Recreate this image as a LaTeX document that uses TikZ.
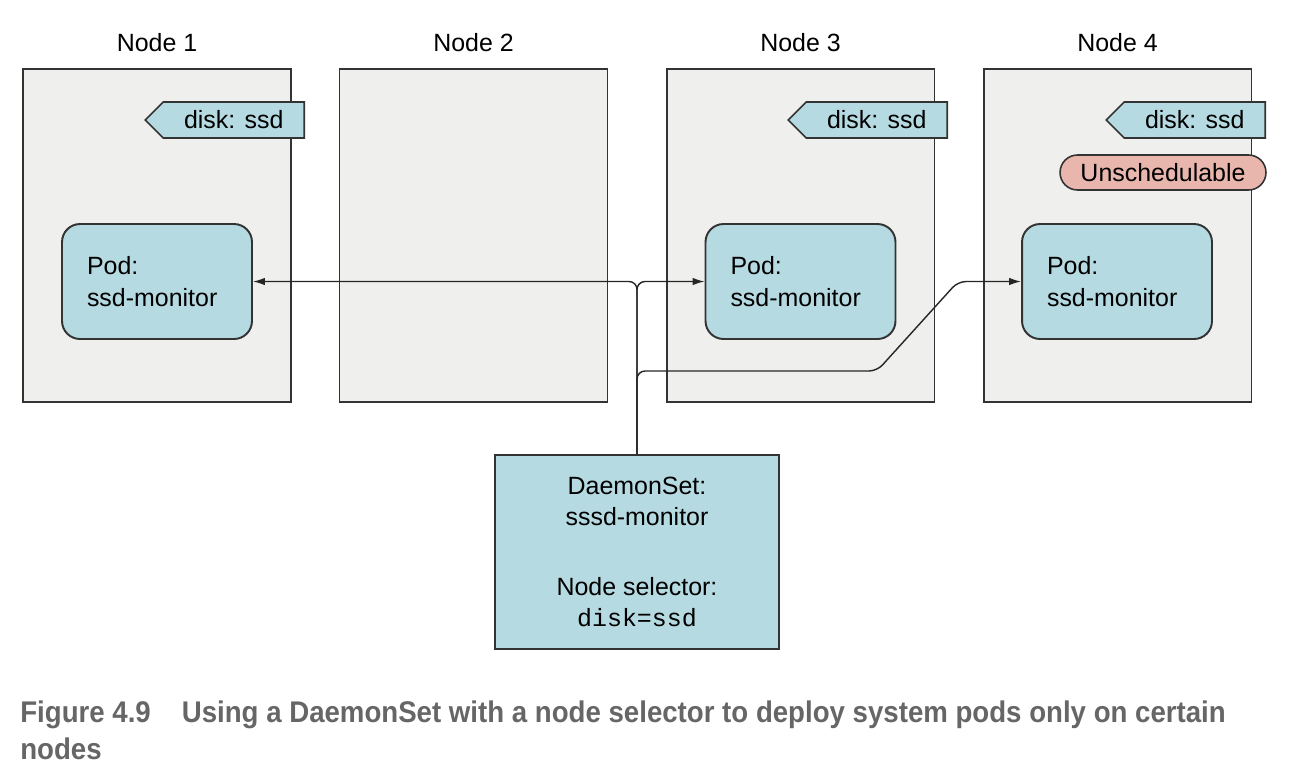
\documentclass[tikz,border=0pt]{standalone}
\usepackage{fontspec}
\setmainfont{Liberation Sans}
\setmonofont{Liberation Mono}
\newfontfamily\capfont[FakeStretch=0.925]{Liberation Sans}
\usetikzlibrary{arrows.meta, positioning, shapes.symbols}
\definecolor{nodegray}{HTML}{EFEFEE}
\definecolor{podblue}{HTML}{B5DAE1}
\definecolor{unschedred}{HTML}{E9B6AE}
\definecolor{edgegray}{HTML}{333333}
\definecolor{capgray}{HTML}{666666}

\begin{document}
\begin{tikzpicture}[
    x=0.02cm, y=-0.02cm,
    font=\fontsize{14.2}{17.9}\selectfont,
    nodebox/.style={draw=edgegray, line width=1.1pt, fill=nodegray, minimum width=5.36cm, minimum height=6.66cm},
    nodetitle/.style={anchor=base},
    disktag/.style={signal, signal to=west, draw=edgegray, line width=0.9pt, fill=podblue, minimum width=3.18cm, minimum height=0.72cm, inner sep=0pt, anchor=east},
    unsched/.style={draw=edgegray, line width=0.9pt, fill=unschedred, rounded corners=0.35cm, minimum width=4.12cm, minimum height=0.7cm, inner sep=0pt},
    podbox/.style={draw=edgegray, line width=1.1pt, fill=podblue, rounded corners=0.36cm, text width=2.8cm, inner xsep=0.5cm, minimum height=2.3cm, align=left},
    dsbox/.style={draw=edgegray, line width=1.1pt, fill=podblue, minimum width=5.68cm, minimum height=3.88cm, align=center},
    conn/.style={-{Latex[length=0.24cm, width=0.15cm]}, line width=0.8pt, black!85, rounded corners=0.16cm},
    caption/.style={font=\capfont\bfseries\fontsize{17}{21.6}\selectfont, text=capgray, align=left, inner sep=0pt, anchor=north west}
]
\useasboundingbox (0,0) rectangle (1294,782);

% the four cluster nodes
\node[nodebox] (n1) at (157,235.5) {};
\node[nodebox] (n2) at (473.5,235.5) {};
\node[nodebox] (n3) at (800.5,235.5) {};
\node[nodebox] (n4) at (1117.5,235.5) {};
\node[nodetitle] (t1) at (157,51) {Node 1};
\node[nodetitle] (t2) at (473.5,51) {Node 2};
\node[nodetitle] (t3) at (800.5,51) {Node 3};
\node[nodetitle] (t4) at (1117.5,51) {Node 4};

% labels
\node[disktag] (d1) at (305,120) {disk: ssd};
\node[disktag] (d3) at (948,120) {disk: ssd};
\node[disktag] (d4) at (1266,120) {disk: ssd};
\node[unsched] (u4) at (1163,172.5) {Unschedulable};

% pods
\node[podbox] (pod1) at (157,281.5) {Pod:\\ ssd-monitor};
\node[podbox] (pod3) at (800.5,281.5) {Pod:\\ ssd-monitor};
\node[podbox] (pod4) at (1117,281.5) {Pod:\\ ssd-monitor};

% daemonset
\node[dsbox] (ds) at (637,552) {DaemonSet:\\ sssd-monitor\\[0.76cm] Node selector:\\ \texttt{disk=ssd}};

\draw[conn] (ds.north) |- (pod1.east);
\draw[conn] (ds.north) |- (pod3.west);
\draw[conn] (ds.north) -- (637,371) -- (877,371) -- (958,281.5) -- (pod4.west);

\node[caption] (cap) at (20,700) {Figure 4.9\hspace{0.62cm}Using a DaemonSet with a node selector to deploy system pods only on certain\\ nodes};
\end{tikzpicture}
\end{document}
